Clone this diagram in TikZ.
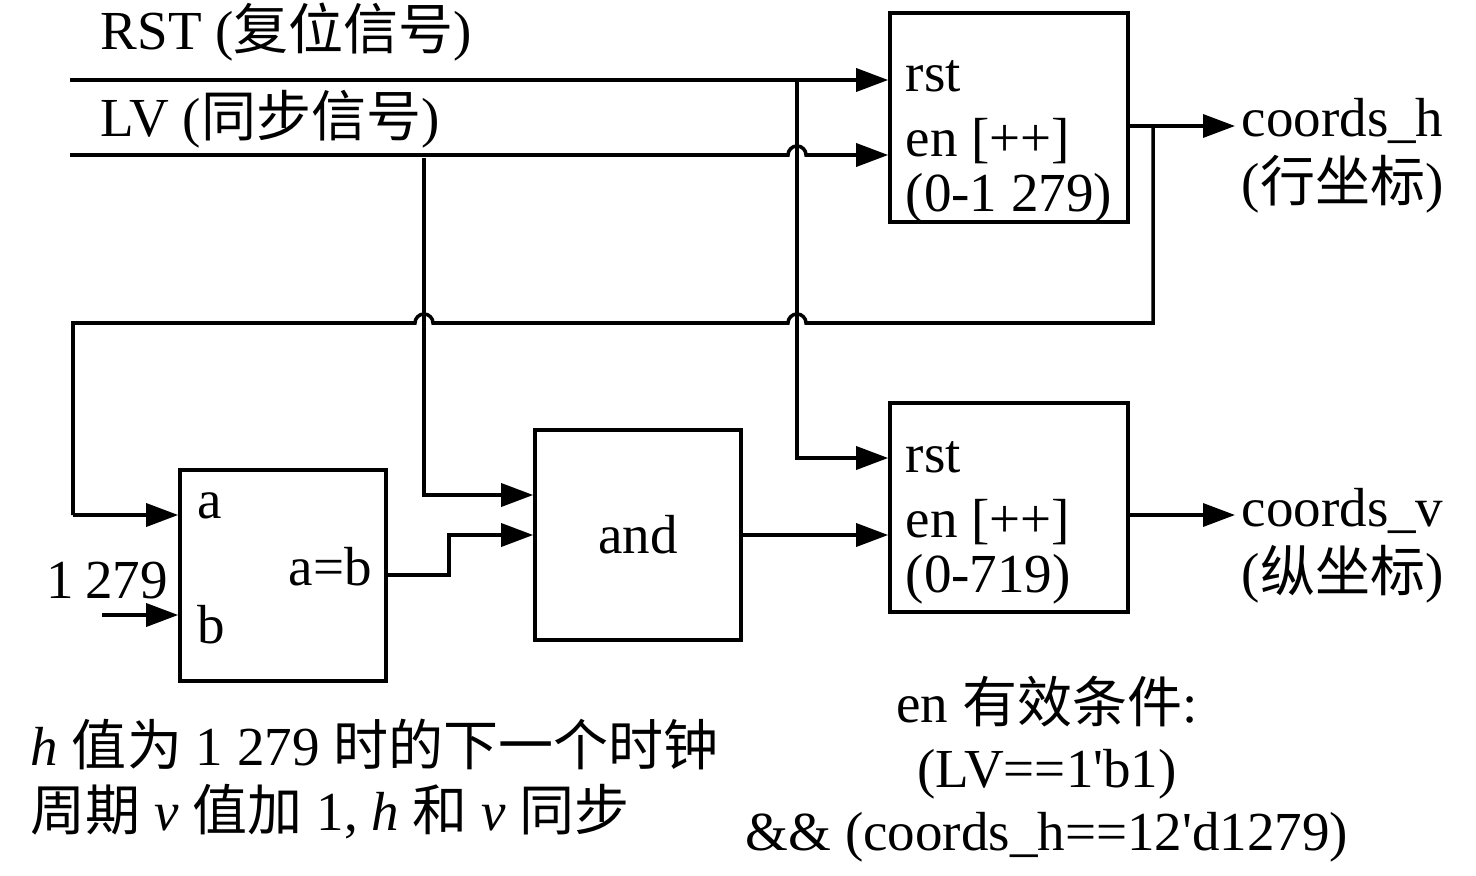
\documentclass[tikz,border=0pt]{standalone}
\usepackage{fontspec}
\setmainfont{Liberation Serif}[Ligatures=TeXOff]
\newfontfamily\cjk{Noto Sans CJK SC}
\usetikzlibrary{arrows.meta}
\newcommand{\fs}{\fontsize{15.65pt}{18pt}\selectfont}
\tikzset{
 wire/.style={line width=1pt},
 arr/.style={wire,-{Triangle[length=0.32cm,width=0.23cm]}},
 blk/.style={draw,line width=1pt,inner sep=0pt},
 lbl/.style={inner sep=0pt,anchor=base west,font=\fs},
 clbl/.style={inner sep=0pt,anchor=base,font=\fs},
}
\begin{document}
\begin{tikzpicture}[x=0.01cm,y=-0.01cm]
\useasboundingbox (0,0) rectangle (1476,876);
% blocks
\node[blk,minimum width=2.38cm,minimum height=2.09cm] (cnth) at (1009,117.5) {};
\node[blk,minimum width=2.38cm,minimum height=2.09cm] (cntv) at (1009,507.5) {};
\node[blk,minimum width=2.06cm,minimum height=2.11cm] (cmp) at (283,575.5) {};
\node[blk,minimum width=2.06cm,minimum height=2.10cm,font=\fs] (andg) at (638,535) {and};
% labels
\node[lbl] (trst) at (100,50) {RST ({\cjk 复位信号})};
\node[lbl] (tlv) at (100,137) {LV ({\cjk 同步信号})};
\node[lbl] (h1) at (905,92) {rst};
\node[lbl] (h2) at (905,157) {en [++]};
\node[lbl] (h3) at (905,212) {(0-1 279)};
\node[lbl] (v1) at (905,472) {rst};
\node[lbl] (v2) at (905,537) {en [++]};
\node[lbl] (v3) at (905,592) {(0-719)};
\node[lbl] (ca) at (197,518) {a};
\node[lbl] (cb) at (197,643) {b};
\node[lbl] (cab) at (288,585) {a=b};
\node[lbl] (c1279) at (46,598) {1\hspace{0.2em}279};
\node[lbl] (oh1) at (1241,137) {coords\_h};
\node[lbl] (oh2) at (1241,202) {({\cjk 行坐标})};
\node[lbl] (ov1) at (1241,526) {coords\_v};
\node[lbl] (ov2) at (1241,591) {({\cjk 纵坐标})};
\node[lbl] (n1) at (30,765) {\textit{h} {\cjk 值为} 1 279 {\cjk 时的下一个时钟}};
\node[lbl] (n2) at (30,830) {{\cjk 周期} \textit{v} {\cjk 值加} 1, \textit{h} {\cjk 和} \textit{v} {\cjk 同步}};
\node[clbl] (e1) at (1047,722) {en {\cjk 有效条件}:};
\node[clbl] (e2) at (1047,787) {(LV==1'b1)};
\node[clbl] (e3) at (1047,850) {\&\& (coords\_h==12'd1279)};
% coordinates
\coordinate (rstL) at (70,80);
\coordinate (lvL) at (70,155);
\coordinate (jr) at (797,80);
\coordinate (jl) at (424,158);
\coordinate (jh) at (1153,126);
\coordinate (bL) at (102,615);
% wires
\draw[arr] (rstL) -- (rstL -| cnth.west);
\draw[arr] (lvL) -- (788,155) arc[start angle=180,end angle=0,radius=0.09cm] -- (lvL -| cnth.west);
\draw[arr] (jr) -- (797,458) -- (797,458 -| cntv.west);
\draw[arr] (jl) -- (424,495) -- (424,495 -| andg.west);
\draw[wire] (jh) -- (1153,323) -- (806,323) arc[start angle=0,end angle=180,radius=0.09cm]
  -- (433,323) arc[start angle=0,end angle=180,radius=0.09cm] -- (73,323) -- (73,515) coordinate (aL);
\draw[arr] (aL) -- (aL -| cmp.west);
\draw[arr] (bL) -- (bL -| cmp.west);
\draw[arr] (cmp.east |- 0,575) -- (449,575) -- (449,535) -- (andg.west);
\draw[arr] (andg.east) -- (andg.east -| cntv.west);
\draw[arr] (cnth.east |- jh) -- (1235,126);
\draw[arr] (cntv.east |- 0,515) -- (1235,515);
\end{tikzpicture}
\end{document}
